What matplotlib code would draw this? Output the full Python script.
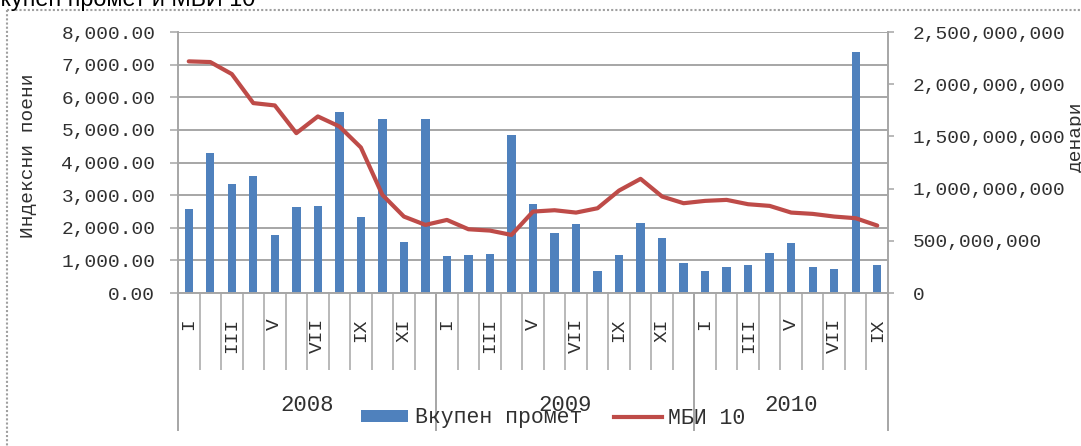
import matplotlib
matplotlib.use("Agg")
import matplotlib.pyplot as plt
import matplotlib.transforms as mtransforms
from matplotlib.lines import Line2D
from matplotlib.patches import Patch
from matplotlib.ticker import FuncFormatter

# ---------------- data ----------------
years = ["2008", "2009", "2010"]
months_per_year = [12, 12, 9]
month_names = ["I", "II", "III", "IV", "V", "VI", "VII", "VIII", "IX", "X", "XI", "XII"]

# total turnover (denars) - right axis
turnover = [803e6, 1343e6, 1042e6, 1125e6, 556e6, 822e6, 838e6, 1736e6, 729e6, 1666e6, 489e6, 1666e6,
            352e6, 361e6, 374e6, 1515e6, 857e6, 572e6, 665e6, 214e6, 361e6, 675e6, 524e6, 291e6,
            214e6, 246e6, 268e6, 384e6, 480e6, 246e6, 227e6, 2311e6, 268e6]

# MBI 10 index points - left axis
mbi10 = [7100, 7079, 6711, 5821, 5749, 4900, 5412, 5105, 4460, 3008, 2343, 2087,
         2240, 1954, 1913, 1780, 2496, 2537, 2465, 2598, 3140, 3499, 2957, 2752,
         2824, 2854, 2721, 2670, 2465, 2425, 2343, 2292, 2067]

left_ticks = [0, 1000, 2000, 3000, 4000, 5000, 6000, 7000, 8000]
right_ticks = [0, 500e6, 1000e6, 1500e6, 2000e6, 2500e6]

title = "Вкупен промет и МБИ 10"
label_left = "Индексни поени"
label_right = "денари"
legend_bar = "Вкупен промет"
legend_line = "МБИ 10"

# ---------------- style ----------------
BLUE = "#4F81BD"
RED = "#BE4B48"
GRID = "#A6A6A6"
TXT = "#303030"
MONO = "Liberation Mono"

W, H = 1081, 446
fig = plt.figure(figsize=(W / 100, H / 100), dpi=100)

x0, x1, y0, y1 = 178, 888, 32, 293
ax = fig.add_axes([x0 / W, 1 - y1 / H, (x1 - x0) / W, (y1 - y0) / H])
ax2 = ax.twinx()
ax.set_zorder(2)
ax2.set_zorder(1)
ax.patch.set_visible(False)

n = len(turnover)
xs = list(range(n))

# bars on right axis
ax2.bar(xs, turnover, width=0.39, color=BLUE, zorder=3)
ax2.set_ylim(right_ticks[0], right_ticks[-1])
ax2.set_yticks(right_ticks)
ax2.yaxis.set_major_formatter(FuncFormatter(lambda v, p: f"{v:,.0f}"))

# line on left axis
ax.plot(xs, mbi10, color=RED, lw=3.0, solid_joinstyle="round", solid_capstyle="round", zorder=4)
ax.set_ylim(left_ticks[0], left_ticks[-1])
ax.set_yticks(left_ticks)
ax.yaxis.set_major_formatter(FuncFormatter(lambda v, p: f"{v:,.2f}"))
ax.set_xlim(-0.5, n - 0.5)

# gridlines (left axis values) beneath bars
blend = mtransforms.blended_transform_factory(ax2.transAxes, ax.transData)
ax2.hlines(left_ticks, 0, 1, transform=blend, colors=GRID, lw=1.4, zorder=1)

# spines
for a in (ax, ax2):
    a.spines["top"].set_visible(False)
    for s in a.spines.values():
        s.set_color(GRID)
        s.set_linewidth(1.4)
ax2.spines["left"].set_visible(False)
ax2.spines["bottom"].set_visible(False)
ax.spines["right"].set_visible(False)

ax.tick_params(axis="y", which="major", length=5.8, width=1.1, color=GRID, pad=10.5,
               labelsize=14, labelcolor=TXT)
ax2.tick_params(axis="y", which="major", length=4.3, width=1.1, color=GRID, pad=13.5,
                labelsize=14, labelcolor=TXT)
for lab in ax.get_yticklabels() + ax2.get_yticklabels():
    lab.set_fontfamily(MONO)

# x axis: month labels (every other one shown) and boundary ticks
month_labels = []
for ny in months_per_year:
    month_labels += month_names[:ny]
shown = [m if i % 2 == 0 else "" for i, m in enumerate(month_labels)]
ax.set_xticks(xs)
ax.set_xticklabels(shown, rotation=90, fontfamily=MONO, fontsize=14, color=TXT)
ax.tick_params(axis="x", which="major", length=0, pad=18)
ax.set_xticks([i - 0.5 for i in range(n + 1)], minor=True)
ax.tick_params(axis="x", which="minor", length=55.5, width=1.1, color=GRID, direction="out")

# year separators and year labels
xblend = mtransforms.blended_transform_factory(ax.transData, ax.transAxes)
bounds = [-0.5]
for ny in months_per_year:
    bounds.append(bounds[-1] + ny)
for b in bounds:
    ax.add_line(Line2D([b, b], [0, -0.525], transform=xblend, color=GRID, lw=1.4, clip_on=False))
for i, yname in enumerate(years):
    ax.text((bounds[i] + bounds[i + 1]) / 2, -0.43, yname, transform=xblend, ha="center", va="center",
            fontfamily=MONO, fontsize=16, color=TXT)

# axis titles
fig.text(29 / W, 1 - 156 / H, label_left, rotation=90, ha="center", va="center",
         fontfamily=MONO, fontsize=14, color=TXT)
fig.text(1076 / W, 1 - 137 / H, label_right, rotation=90, ha="center", va="center",
         fontfamily=MONO, fontsize=14, color=TXT)

# legend
handles = [Patch(facecolor=BLUE, edgecolor="none"), Line2D([], [], color=RED, lw=3.0)]
fig.legend(handles, [legend_bar, legend_line], loc="center", bbox_to_anchor=(553 / W, 1 - 418 / H),
           ncol=2, frameon=False, prop={"family": MONO, "size": 15.5}, handlelength=2.2,
           handleheight=0.5, handletextpad=0.3, columnspacing=1.5, labelcolor=TXT)

# title (cut off at top) and outer frame
fig.text(-15 / W, 1 - 6 / H, title, ha="left", va="baseline", fontfamily="Liberation Sans",
         fontsize=16.8, color="black")
fig.add_artist(Line2D([7 / W, 1.0], [1 - 10 / H, 1 - 10 / H], transform=fig.transFigure,
                      color="#A0A0A0", lw=1.5, ls=(0, (1, 1))))
fig.add_artist(Line2D([7 / W, 7 / W], [1 - 10 / H, 0], transform=fig.transFigure,
                      color="#A0A0A0", lw=1.5, ls=(0, (1, 1))))

fig.savefig("out.png", dpi=100)
